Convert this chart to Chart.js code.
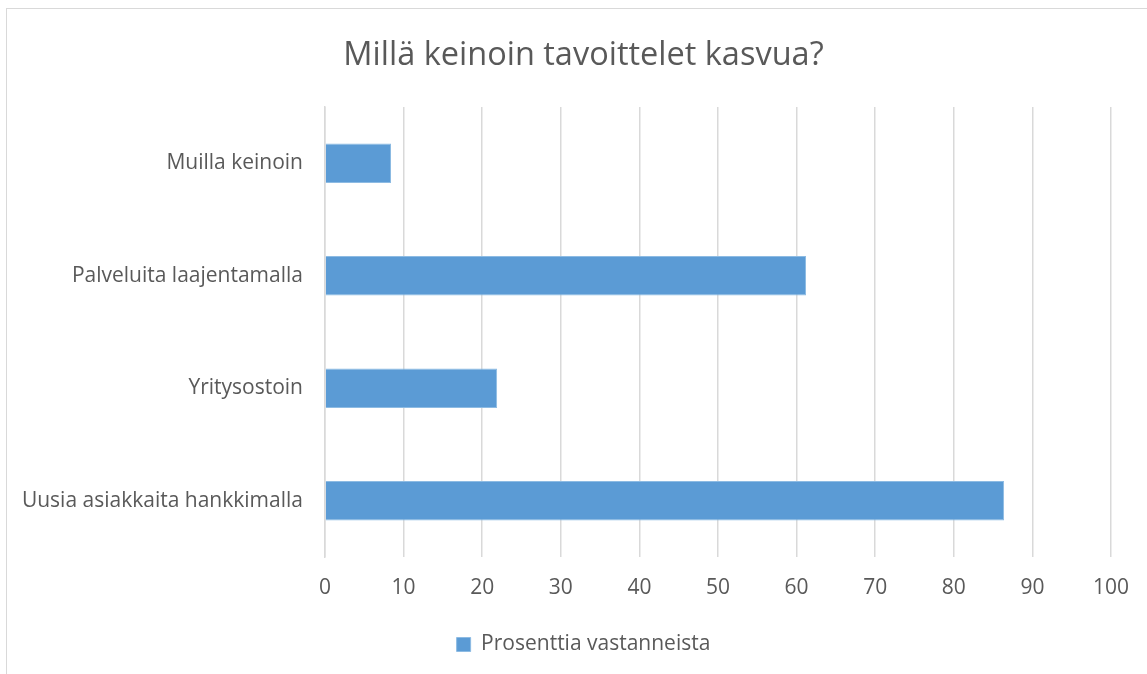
<!DOCTYPE html>
<html>
<head>
<meta charset="utf-8">
<script src="https://cdn.jsdelivr.net/npm/chart.js@4"></script>
<style>
  html, body { margin: 0; padding: 0; background: #fff; overflow: hidden; }
  #wrap { position: relative; width: 1147px; height: 674px; }
  #frame { position: absolute; left: 6px; top: 8px; width: 1200px; height: 700px;
           border-left: 1.5px solid #d9d9d9; border-top: 1.5px solid #d9d9d9; }
  canvas { position: absolute; left: 0; top: 0; }
</style>
</head>
<body>
<div id="wrap">
  <div id="frame"></div>
  <canvas id="chart" width="1147" height="674"></canvas>
</div>
<script>
// Kasvukeinot, osuus vastanneista (%)
const categories = [
  "Muilla keinoin",
  "Palveluita laajentamalla",
  "Yritysostoin",
  "Uusia asiakkaita hankkimalla",
];
const shares = [8.4, 61.2, 21.9, 86.4];
const seriesName = "Prosenttia vastanneista";
const chartTitle = "Millä keinoin tavoittelet kasvua?";
const xMin = 0, xMax = 100, xStep = 10;

const TEXT = "#595959";
const GRID = "#d9d9d9";
const BAR = "#5b9bd5";
const FONT = "'Open Sans', sans-serif";

new Chart(document.getElementById("chart"), {
  type: "bar",
  data: {
    labels: categories,
    datasets: [
      {
        label: seriesName,
        data: shares,
        backgroundColor: BAR,
        borderColor: "#8dbbe3",
        borderWidth: 1,
        categoryPercentage: 0.7,
        barPercentage: 0.5,
      },
    ],
  },
  options: {
    indexAxis: "y",
    responsive: false,
    animation: false,
    layout: { padding: { left: 20, right: 0, top: 0, bottom: 9 } },
    plugins: {
      title: {
        display: true,
        text: chartTitle,
        color: TEXT,
        font: { family: FONT, size: 32.5, weight: "normal" },
        padding: { top: 36, bottom: 32 },
      },
      legend: {
        position: "bottom",
        labels: {
          color: TEXT,
          font: { family: FONT, size: 21 },
          boxWidth: 14,
          boxHeight: 14,
          padding: 8,
        },
      },
      tooltip: { enabled: false },
    },
    scales: {
      x: {
        min: xMin,
        max: xMax,
        ticks: { stepSize: xStep, color: TEXT, font: { family: FONT, size: 21 }, padding: 18 },
        grid: { color: GRID, lineWidth: 1.5, drawTicks: false },
        border: { display: false },
        afterFit: (s) => { s.height = 69; s.paddingRight = 36; },
      },
      y: {
        ticks: { color: TEXT, font: { family: FONT, size: 21 }, padding: 22 },
        grid: { display: false, drawTicks: false },
        border: { color: GRID, width: 1.5 },
        afterFit: (s) => { s.width = 305; },
      },
    },
  },
});
</script>
</body>
</html>
